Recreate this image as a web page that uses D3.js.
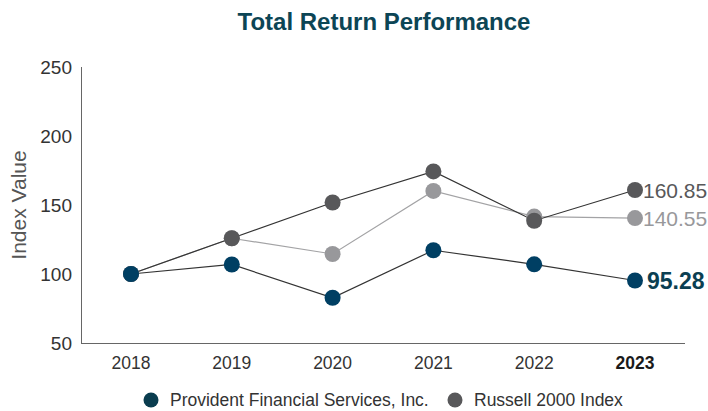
<!DOCTYPE html>
<html>
<head>
<meta charset="utf-8">
<script src="https://cdn.jsdelivr.net/npm/d3@7"></script>
<style>
  html, body { margin: 0; padding: 0; background: #fff; }
  svg { display: block; font-family: "Liberation Sans", Arial, Helvetica, sans-serif; }
</style>
</head>
<body>
<div id="chart"></div>
<script>
const years = ["2018", "2019", "2020", "2021", "2022", "2023"]
const yTicks = [50, 100, 150, 200, 250]

const provident = [100, 106.9, 82.8, 117.2, 107, 95.28]
const russell = [100, 125.9, 151.8, 174.3, 138.6, 160.85]
const peerIndex = [100, 125.9, 114.5, 160.2, 141.6, 140.55]

const series = [
  { name: "peer", values: peerIndex, color: "#98989b", line: "#a3a3a5", label: "140.55", bold: false },
  { name: "Russell 2000 Index", values: russell, color: "#58585a", line: "#333", label: "160.85", bold: false },
  { name: "Provident Financial Services, Inc.", values: provident, color: "#003f63", line: "#333", label: "95.28", bold: true, labelColor: "#0b3f52" }
]

const width = 708
const height = 411

const svg = d3.select("#chart")
  .append("svg")
  .attr("width", width)
  .attr("height", height)

const x = d3.scalePoint().domain(years).range([131, 635])
const y = d3.scaleLinear().domain([50, 250]).range([343, 67])

// Title
svg.append("text")
  .attr("x", 384)
  .attr("y", 30)
  .attr("text-anchor", "middle")
  .attr("font-size", 24)
  .attr("font-weight", 700)
  .attr("fill", "#0c4555")
  .text("Total Return Performance")

// Axes
svg.append("line")
  .attr("x1", 81.5).attr("x2", 81.5)
  .attr("y1", y(250)).attr("y2", y(50))
  .attr("stroke", "#666").attr("stroke-width", 1)

svg.append("line")
  .attr("x1", 81).attr("x2", 685)
  .attr("y1", y(50) + 0.5).attr("y2", y(50) + 0.5)
  .attr("stroke", "#666").attr("stroke-width", 1)

yTicks.forEach(t => {
  svg.append("text")
    .attr("x", 72)
    .attr("y", y(t))
    .attr("dy", "0.36em")
    .attr("text-anchor", "end")
    .attr("font-size", 19)
    .attr("fill", "#333")
    .text(t)
})

years.forEach((yr, i) => {
  svg.append("text")
    .attr("x", x(yr))
    .attr("y", 369)
    .attr("text-anchor", "middle")
    .attr("font-size", 17.5)
    .attr("font-weight", i === years.length - 1 ? 700 : 400)
    .attr("fill", i === years.length - 1 ? "#1a1a1a" : "#333")
    .text(yr)
})

svg.append("text")
  .attr("transform", "translate(26,205) rotate(-90)")
  .attr("text-anchor", "middle")
  .attr("font-size", 21)
  .attr("fill", "#555")
  .text("Index Value")

// Lines
const line = d3.line()
  .x((d, i) => x(years[i]))
  .y(d => y(d))

series.forEach(s => {
  svg.append("path")
    .datum(s.values)
    .attr("d", line)
    .attr("fill", "none")
    .attr("stroke", s.line)
    .attr("stroke-width", 1.2)
})

// Points
series.forEach(s => {
  svg.append("g")
    .selectAll("circle")
    .data(s.values)
    .join("circle")
    .attr("cx", (d, i) => x(years[i]))
    .attr("cy", d => y(d))
    .attr("r", 8)
    .attr("fill", s.color)
})

// End labels
series.forEach(s => {
  const last = s.values[s.values.length - 1]
  svg.append("text")
    .attr("x", x(years[years.length - 1]) + (s.bold ? 12 : 8))
    .attr("y", y(last))
    .attr("dy", "0.36em")
    .attr("font-size", s.bold ? 23 : 21)
    .attr("font-weight", s.bold ? 700 : 400)
    .attr("fill", s.labelColor || s.color)
    .text(s.label)
})

// Legend
const legend = [
  { name: "Provident Financial Services, Inc.", color: "#0a3d4f", cx: 151 },
  { name: "Russell 2000 Index", color: "#58585a", cx: 455 }
]
legend.forEach(l => {
  svg.append("circle")
    .attr("cx", l.cx)
    .attr("cy", 400)
    .attr("r", 7.5)
    .attr("fill", l.color)
  svg.append("text")
    .attr("x", l.cx + 19)
    .attr("y", 400)
    .attr("dy", "0.36em")
    .attr("font-size", 17.5)
    .attr("fill", "#333")
    .text(l.name)
})
</script>
</body>
</html>
